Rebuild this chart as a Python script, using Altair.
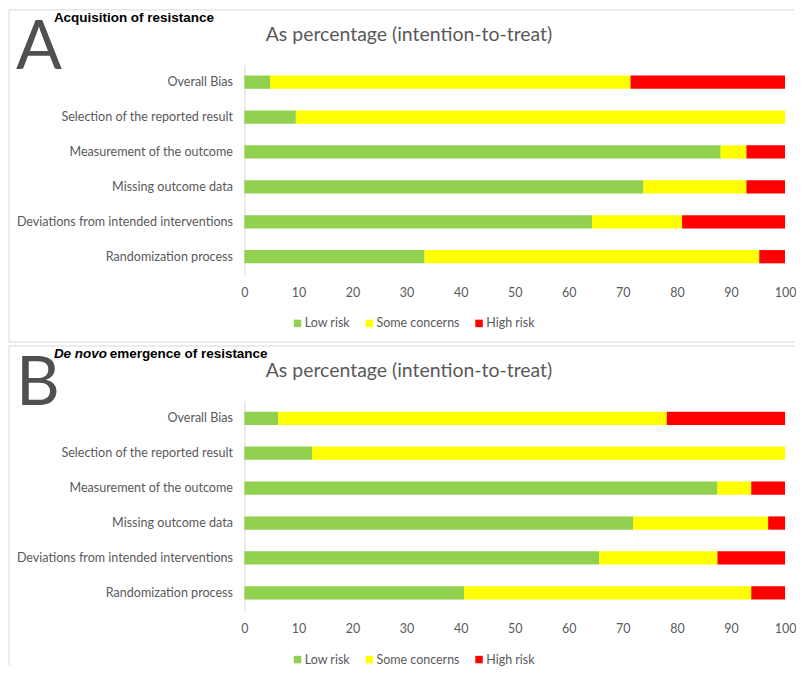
import altair as alt
import pandas as pd

categories = [
    "Overall Bias",
    "Selection of the reported result",
    "Measurement of the outcome",
    "Missing outcome data",
    "Deviations from intended interventions",
    "Randomization process",
]
levels = ["Low risk", "Some concerns", "High risk"]
colors = ["#92D050", "#FFFF00", "#FF0000"]
x_ticks = [0, 10, 20, 30, 40, 50, 60, 70, 80, 90, 100]

# Panel A: Acquisition of resistance (percent of studies)
low_a = [4.76, 9.52, 88.10, 73.81, 64.29, 33.33]
some_a = [66.67, 90.48, 4.76, 19.05, 16.67, 61.90]
high_a = [28.57, 0.0, 7.14, 7.14, 19.05, 4.76]

# Panel B: De novo emergence of resistance
low_b = [6.25, 12.50, 87.50, 71.88, 65.63, 40.63]
some_b = [71.88, 87.50, 6.25, 25.00, 21.88, 53.13]
high_b = [21.88, 0.0, 6.25, 3.13, 12.50, 6.25]

TITLE = "As percentage (intention-to-treat)"
GRAY = "#595959"
BORDER = "#d9d9d9"


def make_df(low, some, high):
    rows = []
    for i, c in enumerate(categories):
        for j, vals in enumerate([low, some, high]):
            rows.append({"domain": c, "judgement": levels[j], "value": vals[i], "ord": j})
    return pd.DataFrame(rows)


one = pd.DataFrame({"k": [0]})


def text_layer(txt, x, y, **kw):
    return alt.Chart(one).mark_text(text=txt, **kw).encode(x=alt.value(x), y=alt.value(y))


def panel(df, letter, is_b):
    bars = alt.Chart(df).mark_bar().encode(
        x=alt.X(
            "value:Q",
            stack="zero",
            scale=alt.Scale(domain=[0, 100], nice=False),
            axis=alt.Axis(
                values=x_ticks, title=None, domain=False, ticks=False, grid=False,
                labelFont="Lato", labelFontSize=12.5, labelColor=GRAY, labelPadding=12,
                labelFlush=False,
            ),
        ),
        y=alt.Y(
            "domain:N",
            sort=categories,
            scale=alt.Scale(paddingInner=0.62, paddingOuter=0.31),
            axis=alt.Axis(
                title=None, ticks=False, grid=False, domainColor=BORDER, domainWidth=1,
                labelFont="Lato", labelFontSize=12.6, labelColor=GRAY, labelPadding=12,
                labelLimit=400,
            ),
        ),
        color=alt.Color(
            "judgement:N",
            scale=alt.Scale(domain=levels, range=colors),
            legend=alt.Legend(
                title=None, orient="none", legendX=47, legendY=253, direction="horizontal",
                symbolType="square", symbolSize=56, symbolStrokeWidth=0,
                labelFont="Lato", labelFontSize=12.5, labelColor=GRAY, labelOffset=1,
                columnPadding=13,
            ),
        ),
        order=alt.Order("ord:Q"),
    )
    layers = [bars]
    layers.append(text_layer(TITLE, 165, -30, font="Lato", fontSize=19.5, color=GRAY,
                             align="center", baseline="middle"))
    layers.append(text_layer(letter, -229, 4, font="Lato", fontSize=68, color="#505050",
                             align="left", baseline="alphabetic"))
    if not is_b:
        layers.append(text_layer("Acquisition of resistance", -191, -43,
                                 font="Liberation Sans", fontSize=13.5, fontWeight="bold",
                                 color="black", align="left", baseline="alphabetic"))
    else:
        layers.append(text_layer("De novo", -191, -43,
                                 font="Liberation Sans", fontSize=13.5, fontWeight="bold",
                                 fontStyle="italic", color="black", align="left",
                                 baseline="alphabetic"))
        layers.append(text_layer("emergence of resistance", -135, -43,
                                 font="Liberation Sans", fontSize=13.5, fontWeight="bold",
                                 color="black", align="left", baseline="alphabetic"))
    # panel border lines
    bottom = 265 if is_b else 278
    layers.append(alt.Chart(one).mark_rule(color=BORDER, strokeWidth=1).encode(
        x=alt.value(-236), x2=alt.value(551), y=alt.value(-55)))
    layers.append(alt.Chart(one).mark_rule(color=BORDER, strokeWidth=1).encode(
        x=alt.value(-236), y=alt.value(-55), y2=alt.value(bottom)))
    if not is_b:
        layers.append(alt.Chart(one).mark_rule(color=BORDER, strokeWidth=1).encode(
            x=alt.value(-236), x2=alt.value(551), y=alt.value(bottom)))
    return alt.layer(*layers).properties(width=542, height=210)


pa = panel(make_df(low_a, some_a, high_a), "A", False)
pb = panel(make_df(low_b, some_b, high_b), "B", True)

chart = (
    alt.vconcat(pa, pb, spacing=2)
    .resolve_legend(color="independent")
    .properties(padding=0)
    .configure_view(stroke=None)
)

chart.save("out.html", embed_options={"renderer": "svg", "actions": False})
